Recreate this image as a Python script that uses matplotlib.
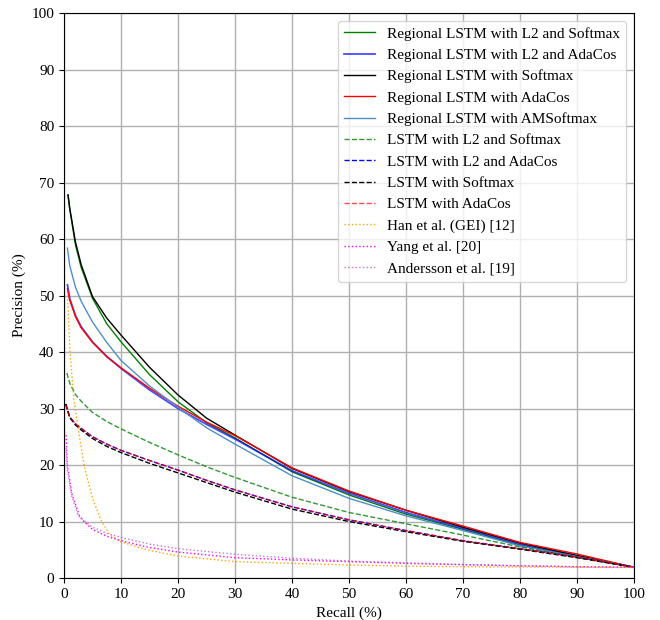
import matplotlib
matplotlib.use("Agg")
import matplotlib.pyplot as plt

plt.rcParams['font.family'] = ['Liberation Serif', 'DejaVu Serif']
plt.rcParams['font.size'] = 11

# Shared recall grid (%) for the body of the curves
recall_grid = [1, 2, 3, 5, 7.5, 10, 15, 20, 25, 30, 40, 50, 60, 70, 80, 90, 100]

# Regional LSTM curves (start point + grid)
reg_l2_softmax_r = [0.7] + recall_grid
reg_l2_softmax_p = [67.8, 65.3, 59.0, 55.0, 49.5, 45.0, 41.8, 36.0, 31.2, 27.5, 24.8, 18.8, 14.7, 11.3, 8.6, 5.8, 3.8, 1.9]

reg_l2_adacos_r = [0.6] + recall_grid
reg_l2_adacos_p = [51.9, 49.5, 46.5, 44.5, 41.8, 39.2, 37.1, 33.3, 30.0, 27.2, 24.6, 19.0, 15.0, 11.6, 8.8, 6.0, 3.9, 1.9]

reg_softmax_r = [0.7] + recall_grid
reg_softmax_p = [67.8, 65.5, 59.5, 55.5, 49.8, 46.0, 43.0, 37.3, 32.4, 28.3, 25.3, 19.4, 15.3, 12.0, 9.0, 6.2, 4.0, 1.9]

reg_adacos_r = [0.6] + recall_grid
reg_adacos_p = [51.2, 49.2, 46.3, 44.3, 41.7, 39.2, 37.2, 33.6, 30.4, 27.6, 25.2, 19.5, 15.4, 12.0, 9.2, 6.3, 4.25, 1.9]

reg_amsoftmax_r = [0.6] + recall_grid
reg_amsoftmax_p = [58.4, 55.3, 51.5, 49.0, 45.3, 41.7, 38.5, 34.0, 30.2, 26.6, 23.7, 18.1, 14.1, 11.0, 8.4, 5.7, 3.8, 1.9]

# Plain LSTM curves
lstm_l2_softmax_r = [0.5] + recall_grid
lstm_l2_softmax_p = [36.3, 34.5, 32.5, 31.3, 29.3, 27.7, 26.4, 24.0, 21.8, 19.7, 17.8, 14.3, 11.6, 9.6, 7.6, 5.5, 3.7, 1.9]

lstm_l2_adacos_r = [0.3] + recall_grid
lstm_l2_adacos_p = [30.8, 28.5, 27.3, 26.5, 25.0, 23.7, 22.6, 20.8, 19.1, 17.3, 15.6, 12.6, 10.3, 8.4, 6.6, 5.2, 3.7, 1.9]

lstm_softmax_r = [0.3] + recall_grid
lstm_softmax_p = [30.8, 28.4, 27.1, 26.2, 24.7, 23.3, 22.2, 20.3, 18.6, 16.9, 15.2, 12.2, 10.0, 8.2, 6.5, 5.1, 3.6, 1.9]

lstm_adacos_r = [0.3] + recall_grid
lstm_adacos_p = [30.6, 28.5, 27.3, 26.5, 25.0, 23.7, 22.6, 20.8, 19.1, 17.3, 15.6, 12.6, 10.3, 8.4, 6.6, 5.2, 3.7, 1.9]

# Prior work
han_r = [0.6, 1.05, 1.75, 2.8, 3.7, 5.1, 6.6, 8.1, 10, 14.5, 20, 30, 40, 50, 60, 70, 80, 90, 100]
han_p = [50.0, 40.0, 31.5, 24.4, 19.1, 13.8, 10.0, 7.6, 6.4, 5.0, 3.9, 2.9, 2.6, 2.3, 2.1, 2.0, 1.95, 1.9, 1.85]

yang_r = [0.35, 0.6, 1.35, 2.7, 3.5, 5, 7.5, 10, 15, 20, 30, 40, 50, 60, 70, 80, 90, 100]
yang_p = [25.3, 20.0, 15.0, 11.0, 10.0, 8.6, 7.4, 6.6, 5.4, 4.6, 3.6, 3.2, 2.9, 2.6, 2.35, 2.15, 2.0, 1.9]

andersson_r = [0.35, 0.6, 1.35, 2.5, 3.7, 5, 7.5, 10, 15, 20, 30, 40, 50, 60, 70, 80, 90, 100]
andersson_p = [23.0, 19.0, 14.5, 11.0, 10.0, 9.0, 7.9, 7.2, 6.0, 5.2, 4.2, 3.5, 3.0, 2.7, 2.4, 2.2, 2.0, 1.9]

x_ticks = [0, 10, 20, 30, 40, 50, 60, 70, 80, 90, 100]
y_ticks = [0, 10, 20, 30, 40, 50, 60, 70, 80, 90, 100]

fig = plt.figure(figsize=(6.6, 6.2), dpi=100)
ax = fig.add_axes([0.097, 0.0677, 0.8636, 0.9113])

ax.plot(reg_l2_softmax_r, reg_l2_softmax_p, color='green', lw=1, label='Regional LSTM with L2 and Softmax')
ax.plot(reg_l2_adacos_r, reg_l2_adacos_p, color='blue', lw=1.3, alpha=0.7, label='Regional LSTM with L2 and AdaCos')
ax.plot(reg_softmax_r, reg_softmax_p, color='black', lw=1, label='Regional LSTM with Softmax')
ax.plot(reg_adacos_r, reg_adacos_p, color='red', lw=1, label='Regional LSTM with AdaCos')
ax.plot(reg_amsoftmax_r, reg_amsoftmax_p, color='#4f8fc7', lw=1, label='Regional LSTM with AMSoftmax')
ax.plot(lstm_l2_softmax_r, lstm_l2_softmax_p, color='green', ls='--', lw=1, alpha=0.8, label='LSTM with L2 and Softmax')
ax.plot(lstm_l2_adacos_r, lstm_l2_adacos_p, color='blue', ls='--', lw=1, label='LSTM with L2 and AdaCos')
ax.plot(lstm_softmax_r, lstm_softmax_p, color='black', ls='--', lw=1, label='LSTM with Softmax')
ax.plot(lstm_adacos_r, lstm_adacos_p, color='red', ls='--', lw=1, alpha=0.7, label='LSTM with AdaCos')
ax.plot(han_r, han_p, color='orange', ls=':', lw=1, label='Han et al. (GEI) [12]')
ax.plot(yang_r, yang_p, color='magenta', ls=':', lw=1, label='Yang et al. [20]')
ax.plot(andersson_r, andersson_p, color='mediumorchid', ls=':', lw=1, alpha=0.8, label='Andersson et al. [19]')

ax.set_xlim(0, 100)
ax.set_ylim(0, 100)
ax.set_xticks(x_ticks)
ax.set_yticks(y_ticks)
ax.grid(True, color='#b0b0b0', lw=1)
ax.set_axisbelow(True)
ax.set_xlabel('Recall (%)')
ax.set_ylabel('Precision (%)')
ax.legend(loc='upper right', fontsize=11)

fig.savefig('out.png', dpi=100)
